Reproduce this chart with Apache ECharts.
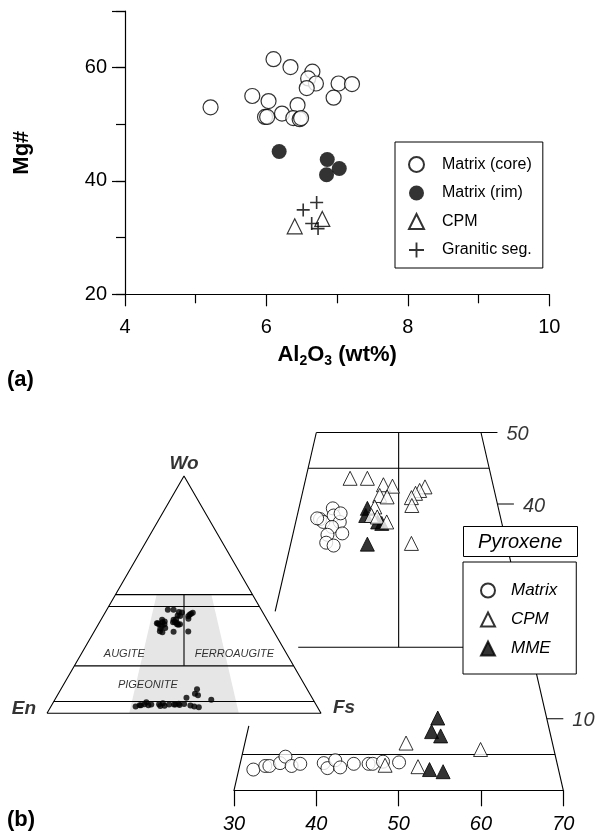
<!DOCTYPE html>
<html>
<head>
<meta charset="utf-8">
<script src="https://cdn.jsdelivr.net/npm/echarts@6/dist/echarts.min.js"></script>
<style>
  html, body { margin: 0; padding: 0; background: #fff; }
  #chart { width: 600px; height: 836px; }
</style>
</head>
<body>
<div id="chart"></div>
<script>
// ---------- (a) Mg# vs Al2O3 (wt%) ----------
const matrixCore = [
  [6.10, 61.5], [6.34, 60.1], [6.65, 59.3], [6.59, 58.1], [6.70, 57.2],
  [6.57, 56.4], [7.02, 57.2], [7.21, 57.1], [6.95, 54.7], [5.80, 55.0],
  [6.03, 54.1], [6.44, 53.4], [6.22, 51.9], [5.98, 51.3], [6.01, 51.3],
  [6.38, 51.1], [6.47, 50.9], [6.49, 51.1], [5.21, 53.0]
];
const matrixRim = [[6.18, 45.2], [6.86, 43.8], [7.03, 42.2], [6.85, 41.1]];
const cpmA = [[6.40, 32.0], [6.79, 33.3]];
const graniticSeg = [[6.52, 34.9], [6.71, 36.2], [6.64, 32.5], [6.73, 31.6]];
const al2o3Labels = [4, 6, 8, 10];
const mgLabels = [20, 40, 60];

// ---------- (b) pyroxene compositions, [Wo, Fs] mol% (En = 100 - Wo - Fs) ----------
const pxMatrix = [
  [37.9, 21.5], [37.5, 22.1], [39.4, 22.3], [38.4, 22.9], [37.5, 24.1], [36.8, 23.5],
  [35.9, 25.2], [35.7, 23.5], [34.6, 23.9], [34.2, 25.0], [38.0, 21.1], [38.7, 23.6],
  [2.9, 30.9], [3.4, 32.1], [3.4, 32.6], [3.8, 33.7], [4.7, 33.9], [3.4, 35.3],
  [3.7, 36.2], [3.8, 39.0], [3.1, 39.8], [4.2, 40.2], [3.2, 41.3], [3.7, 42.7],
  [3.7, 44.5], [3.7, 45.0], [4.0, 46.1], [3.9, 48.1]
];
const pxCPM = [
  [43.6, 22.3], [43.6, 24.4], [42.7, 26.8], [42.5, 28.0], [41.2, 27.1], [41.0, 28.1],
  [39.6, 27.3], [38.4, 27.5], [38.2, 28.3], [37.5, 29.8], [42.4, 32.0], [41.9, 31.6],
  [41.5, 31.3], [40.9, 31.1], [39.8, 31.7], [34.5, 34.3],
  [3.5, 46.6], [3.3, 50.7], [6.6, 47.6], [5.7, 57.1]
];
const pxMME = [
  [39.4, 26.5], [38.4, 26.8], [37.5, 28.7], [37.3, 29.3], [34.4, 29.0],
  [10.1, 49.7], [8.2, 49.9], [7.6, 51.3], [2.9, 52.3], [2.6, 54.1]
];
const fsAxisTicks = [30, 40, 50, 60, 70];
const woAxisTicks = [50, 40, 10];

const FONT = '"Liberation Sans", Arial, Helvetica, sans-serif';
const INK = '#000';

// ternary -> plane: x = Fs + Wo/2, y = Wo (the y axis is scaled by sqrt(3)/2 through the grid size)
const tern = (wo, fs) => [fs + wo / 2, wo];
// point on a line of constant Fs/(En+Fs) ratio r (%) at a given Wo
const ratioPt = (wo, r) => tern(wo, r * (100 - wo) / 100);
const proj = arr => arr.map(([wo, fs]) => tern(wo, fs));

function seg(xi, yi, pts, width) {
  return {
    type: 'line', xAxisIndex: xi, yAxisIndex: yi, data: pts,
    symbol: 'none', silent: true, clip: false, z: 3,
    lineStyle: { color: INK, width: width || 1.1 }
  };
}

function labels(xi, yi, items) {
  return {
    type: 'scatter', xAxisIndex: xi, yAxisIndex: yi, silent: true, clip: false,
    symbolSize: 0, z: 5,
    data: items.map(it => ({
      value: it.at,
      label: Object.assign({
        show: true, formatter: it.text, color: INK, fontFamily: FONT
      }, it.style)
    }))
  };
}

const series = [];

// ----- (a) scatter -----
series.push({
  type: 'scatter', name: 'Matrix (core)', xAxisIndex: 0, yAxisIndex: 0, data: matrixCore,
  symbol: 'circle', symbolSize: 15,
  itemStyle: { color: '#fff', borderColor: INK, borderWidth: 1.2 }
});
series.push({
  type: 'scatter', name: 'Matrix (rim)', xAxisIndex: 0, yAxisIndex: 0, data: matrixRim,
  symbol: 'circle', symbolSize: 15, itemStyle: { color: INK }
});
series.push({
  type: 'scatter', name: 'CPM', xAxisIndex: 0, yAxisIndex: 0, data: cpmA,
  symbol: 'triangle', symbolSize: 15,
  itemStyle: { color: '#fff', borderColor: INK, borderWidth: 1.2 }
});
series.push({
  type: 'scatter', name: 'Granitic seg.', xAxisIndex: 0, yAxisIndex: 0, data: graniticSeg,
  symbol: 'path://M7,0H9V7H16V9H9V16H7V9H0V7H7Z', symbolSize: 13,
  itemStyle: { color: INK }
});

// ----- (b) small Wo-En-Fs triangle -----
const grey = [ratioPt(0, 30), ratioPt(0, 70), ratioPt(50, 70), ratioPt(50, 30)];
series.push({
  type: 'custom', xAxisIndex: 1, yAxisIndex: 2, silent: true, z: 1, data: [0],
  renderItem: (params, api) => ({
    type: 'polygon',
    shape: { points: grey.map(p => api.coord(p)) },
    style: { fill: '#e6e6e6' }
  })
});
series.push(seg(1, 2, [tern(0, 0), tern(0, 100), tern(100, 0), tern(0, 0)]));
[50, 45, 20, 5].forEach(w => series.push(seg(1, 2, [tern(w, 0), tern(w, 100 - w)])));
series.push(seg(1, 2, [ratioPt(20, 50), ratioPt(50, 50)]));
const allPx = pxMatrix.concat(pxCPM, pxMME);
series.push({
  type: 'scatter', xAxisIndex: 1, yAxisIndex: 2, data: proj(allPx), silent: true,
  symbol: 'circle', symbolSize: 6, itemStyle: { color: INK }, z: 4
});
series.push(labels(1, 2, [
  { at: tern(100, 0), text: 'Wo', style: { position: 'top', distance: 3, fontSize: 19, fontWeight: 'bold', fontStyle: 'italic' } },
  { at: tern(0, 0), text: 'En', style: { position: 'left', distance: 11, offset: [0, -5], fontSize: 19, fontWeight: 'bold', fontStyle: 'italic' } },
  { at: tern(0, 100), text: 'Fs', style: { position: 'right', distance: 12, offset: [0, -6], fontSize: 19, fontWeight: 'bold', fontStyle: 'italic' } },
  { at: [28.2, 24.9], text: 'AUGITE', style: { position: 'inside', fontSize: 11, fontStyle: 'italic' } },
  { at: [68.4, 24.9], text: 'FERROAUGITE', style: { position: 'inside', fontSize: 11, fontStyle: 'italic' } },
  { at: [36.8, 11.8], text: 'PIGEONITE', style: { position: 'inside', fontSize: 11, fontStyle: 'italic' } }
]));

// ----- (b) enlarged field, Fs/(En+Fs) 30-70 %, Wo 0-50 -----
series.push(seg(2, 3, [ratioPt(50, 30), ratioPt(25, 30)]));
series.push(seg(2, 3, [ratioPt(9, 30), ratioPt(0, 30)]));
series.push(seg(2, 3, [ratioPt(0, 70), ratioPt(50, 70)]));
series.push(seg(2, 3, [ratioPt(50, 30), [ratioPt(50, 70)[0] + 2, 50]]));
series.push(seg(2, 3, [ratioPt(45, 30), ratioPt(45, 70)]));
series.push(seg(2, 3, [[37.8, 20], ratioPt(20, 70)]));
series.push(seg(2, 3, [ratioPt(5, 30), ratioPt(5, 70)]));
series.push(seg(2, 3, [ratioPt(20, 50), ratioPt(50, 50)]));
woAxisTicks.filter(w => w !== 50).forEach(w => {
  const p = ratioPt(w, 70);
  series.push(seg(2, 3, [p, [p[0] + 2, w]]));
});
series.push(labels(2, 3, woAxisTicks.map(w => ({
  at: [ratioPt(w, 70)[0] + 2, w], text: String(w),
  style: { position: 'right', distance: 9, offset: [0, 2], fontSize: 20, fontStyle: 'italic' }
}))));
series.push({
  type: 'scatter', name: 'Matrix', xAxisIndex: 2, yAxisIndex: 3, data: proj(pxMatrix),
  symbol: 'circle', symbolSize: 13, clip: false, z: 6,
  itemStyle: { color: '#fff', borderColor: INK, borderWidth: 1 }
});
series.push({
  type: 'scatter', name: 'MME', xAxisIndex: 2, yAxisIndex: 3, data: proj(pxMME),
  symbol: 'triangle', symbolSize: 14, clip: false, z: 6,
  itemStyle: { color: INK, borderColor: INK, borderWidth: 1 }
});
series.push({
  type: 'scatter', name: 'CPM', xAxisIndex: 2, yAxisIndex: 3, data: proj(pxCPM),
  symbol: 'triangle', symbolSize: 14, clip: false, z: 6,
  itemStyle: { color: '#fff', borderColor: INK, borderWidth: 1 }
});

const axisLineStyle = { lineStyle: { color: INK, width: 1.2 } };

const option = {
  backgroundColor: '#fff',
  animation: false,
  textStyle: { fontFamily: FONT },
  title: [
    { text: '(a)', left: 7, top: 369, padding: 0, textStyle: { fontSize: 22, fontWeight: 'bold', color: INK, fontFamily: FONT } },
    { text: '(b)', left: 7, top: 809, padding: 0, textStyle: { fontSize: 22, fontWeight: 'bold', color: INK, fontFamily: FONT } },
    {
      text: 'Pyroxene', left: 463, top: 526, padding: [6, 15, 5, 15],
      borderColor: INK, borderWidth: 1, backgroundColor: '#fff',
      textStyle: { fontSize: 20, fontStyle: 'italic', fontWeight: 'normal', color: INK, fontFamily: FONT }
    }
  ],
  legend: [
    {
      orient: 'vertical', left: 395, top: 142, selectedMode: false,
      data: ['Matrix (core)', 'Matrix (rim)', 'CPM', 'Granitic seg.'],
      itemWidth: 15, itemHeight: 15, itemGap: 12, padding: [14, 11, 10, 13],
      borderColor: INK, borderWidth: 1, backgroundColor: '#fff',
      textStyle: { fontSize: 16, color: INK, fontFamily: FONT, padding: [0, 0, 0, 13] }
    },
    {
      orient: 'vertical', left: 463, top: 562, selectedMode: false,
      data: ['Matrix', 'CPM', 'MME'],
      itemWidth: 14, itemHeight: 14, itemGap: 12, padding: [20, 19, 17, 17],
      borderColor: INK, borderWidth: 1, backgroundColor: '#fff',
      textStyle: { fontSize: 17, fontStyle: 'italic', color: INK, fontFamily: FONT, padding: [0, 0, 0, 11] }
    }
  ],
  grid: [
    { left: 125, top: 11, width: 424.3, height: 283.3 },
    { left: 47, top: 476, width: 274, height: 237.3 },
    { left: 234, top: 432.5, width: 329.3, height: 357.8 }
  ],
  xAxis: [
    {
      gridIndex: 0, type: 'value', min: 4, max: 10, interval: 2,
      axisLine: Object.assign({ onZero: false }, axisLineStyle),
      axisTick: { length: 12, lineStyle: { color: INK, width: 1.2 } },
      minorTick: { show: true, splitNumber: 2, length: 9, lineStyle: { color: INK, width: 1.2 } },
      splitLine: { show: false },
      axisLabel: {
        margin: 23, fontSize: 20, color: INK, fontFamily: FONT,
        formatter: v => (al2o3Labels.includes(v) ? String(v) : '')
      },
      name: 'Al{sub|2}O{sub|3} (wt%)', nameLocation: 'middle', nameGap: 48,
      nameTextStyle: {
        fontSize: 22, fontWeight: 'bold', color: INK, fontFamily: FONT, lineHeight: 26,
        rich: { sub: { fontSize: 14, fontWeight: 'bold', lineHeight: 14, verticalAlign: 'bottom', fontFamily: FONT, color: INK } }
      }
    },
    { gridIndex: 1, type: 'value', min: 0, max: 100, show: false },
    {
      gridIndex: 2, type: 'value', min: 30, max: 70, interval: 10,
      axisLine: Object.assign({ onZero: false }, axisLineStyle),
      axisTick: { length: 16, lineStyle: { color: INK, width: 1.2 } },
      splitLine: { show: false },
      axisLabel: {
        margin: 24, fontSize: 20, fontStyle: 'italic', color: INK, fontFamily: FONT,
        formatter: v => (fsAxisTicks.includes(v) ? String(v) : '')
      }
    }
  ],
  yAxis: [
    {
      gridIndex: 0, type: 'value', min: 20, max: 70, interval: 10, position: 'left',
      axisLine: Object.assign({ onZero: false }, axisLineStyle),
      axisTick: { length: 9, lineStyle: { color: INK, width: 1.2 } },
      splitLine: { show: false },
      axisLabel: {
        margin: 18, fontSize: 20, color: INK, fontFamily: FONT,
        formatter: v => (mgLabels.includes(v) ? String(v) : '')
      },
      name: 'Mg#', nameLocation: 'middle', nameGap: 92,
      nameTextStyle: { fontSize: 22, fontWeight: 'bold', color: INK, fontFamily: FONT }
    },
    {
      gridIndex: 0, type: 'value', min: 20, max: 70, interval: 20, position: 'left', offset: 0,
      axisLine: { show: false },
      axisTick: { length: 13, lineStyle: { color: INK, width: 1.2 } },
      axisLabel: { show: false }, splitLine: { show: false }
    },
    { gridIndex: 1, type: 'value', min: 0, max: 100, show: false },
    { gridIndex: 2, type: 'value', min: 0, max: 50, show: false }
  ],
  series: series
};

const chart = echarts.init(document.getElementById('chart'), null, { renderer: 'canvas' });
chart.setOption(option);
</script>
</body>
</html>
